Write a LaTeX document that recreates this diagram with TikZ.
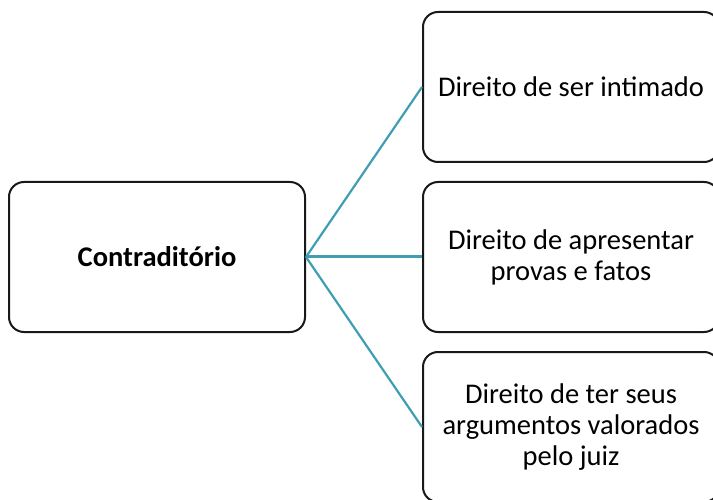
\documentclass[tikz,border=0pt]{standalone}
\usepackage{fontspec}
\setmainfont{Carlito}
\definecolor{linkc}{RGB}{64,158,178}
\begin{document}
\begin{tikzpicture}[x=1pt,y=-1pt,
  box/.style={draw=black!90,line width=2pt,rounded corners=15pt,minimum width=#1,minimum height=150pt,align=center,font=\fontsize{28.5}{31}\selectfont,inner sep=0pt},
  box/.default=296pt,
  link/.style={draw=linkc,line width=2.2pt}]
\useasboundingbox (0,0) rectangle (713,500);
\node[box, font=\fontsize{28.5}{31}\selectfont\bfseries] (c) at (157,257) {Contraditório};
\node[box=296pt, anchor=west] (a) at (422,87) {Direito de ser intimado};
\node[box=296pt, anchor=west] (b) at (422,257) {Direito de apresentar\\provas e fatos};
\node[box=296pt, anchor=west] (d) at (422,427) {Direito de ter seus\\argumentos valorados\\pelo juiz};
\draw[link] (c.east) -- (a.west);
\draw[link, line width=3pt] (c.east) -- (b.west);
\draw[link] (c.east) -- (d.west);
\end{tikzpicture}
\end{document}
